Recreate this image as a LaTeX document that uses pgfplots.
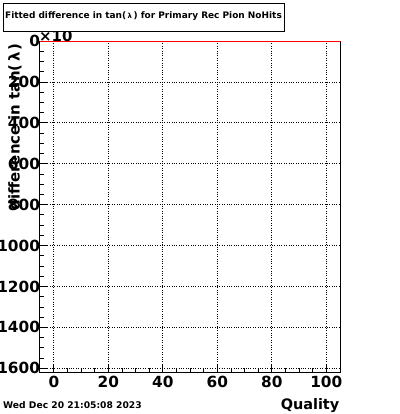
\documentclass[border=0pt]{standalone}
\usepackage{fontspec}
\setmainfont{DejaVu Sans}
\usepackage{pgfplots}
\pgfplotsset{compat=1.18}
\begin{document}
\begin{tikzpicture}
\path[use as bounding box] (0bp,0bp) rectangle (400bp,414bp);
\begin{axis}[
  at={(40bp,42bp)}, anchor=south west,
  scale only axis, width=300.7bp, height=331bp,
  xmin=-5.1, xmax=105.3, ymin=0, ymax=1618,
  y dir=reverse,
  xtick={0,20,40,60,80,100},
  ytick={0,200,400,600,800,1000,1200,1400,1600},
  minor x tick num=3, minor y tick num=3,
  tick align=inside, xtick pos=bottom, ytick pos=left,
  major tick length=8bp, minor tick length=4bp,
  tick style={black, line width=0.8bp},
  grid=major, grid style={black, dotted, line width=0.8bp},
  axis line style={black, line width=1bp},
  /pgf/number format/assume math mode=true,
  /pgf/number format/1000 sep={},
  tick label style={font=\bfseries\fontsize{15.4}{16}\selectfont},
  xticklabel style={yshift=-1bp},
  yticklabel style={xshift=3.5bp},
]
\addplot[red, line width=1bp] coordinates {(-5.1,0) (105.3,0)};
\end{axis}
\node[anchor=west, inner sep=0pt, font=\bfseries\fontsize{15}{15}\selectfont] at (39bp,378bp) {×10};
\draw[black, fill=white, line width=0.8bp] (3.3bp,383bp) rectangle (284bp,411bp);
\node[inner sep=0pt, font=\bfseries\fontsize{9}{9}\selectfont] at (143.5bp,397.5bp) {Fitted difference in tan(\,{\fontsize{7}{7}\selectfont λ}\,) for Primary Rec Pion NoHits};
\node[rotate=90, anchor=east, inner sep=0pt, font=\bfseries\fontsize{15}{15}\selectfont] at (15bp,371bp) {difference in tan(\,λ\,)};
\node[anchor=west, inner sep=0pt, font=\bfseries\fontsize{9.2}{9.5}\selectfont] at (3bp,9bp) {Wed Dec 20 21:05:08 2023};
\node[anchor=east, inner sep=0pt, font=\bfseries\fontsize{14.5}{15}\selectfont] at (339.5bp,8.5bp) {Quality};
\end{tikzpicture}
\end{document}
